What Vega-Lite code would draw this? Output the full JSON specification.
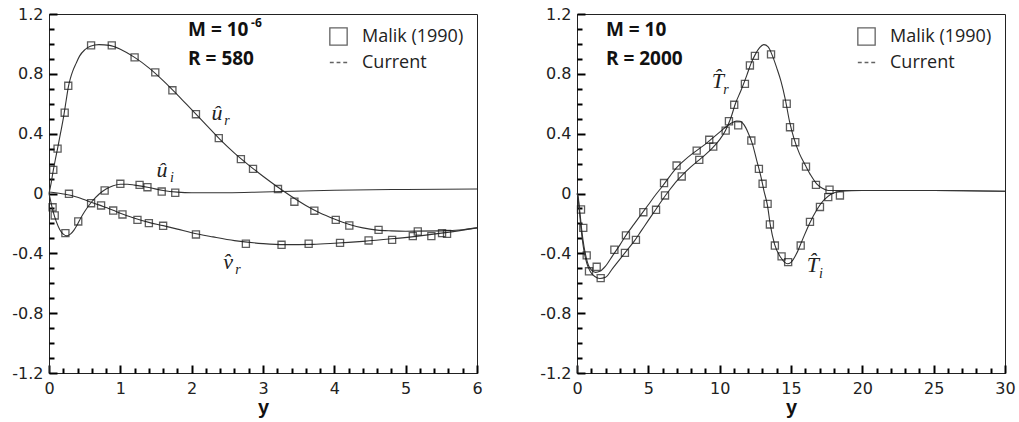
{
  "$schema": "https://vega.github.io/schema/vega-lite/v6.json",
  "background": "white",
  "padding": {"left": 11, "top": 5, "right": 5, "bottom": 5},
  "config": {
    "view": {"stroke": "#222", "strokeWidth": 1},
    "axis": {"labelFont": "DejaVu Sans", "labelFontSize": 16, "labelColor": "#222", "domainColor": "#222", "domainWidth": 1, "tickColor": "#000", "tickWidth": 2, "grid": false, "labelFlush": false, "titleFont": "Liberation Sans", "titleFontSize": 20, "titleFontWeight": "bold", "titleColor": "#111"},
    "legend": {"labelFont": "Open Sans", "labelFontSize": 18, "labelColor": "#222", "symbolStrokeColor": "#222", "symbolStrokeWidth": 1.3, "symbolSize": 300, "symbolFillColor": "transparent", "rowPadding": 5, "labelOffset": 14, "padding": 0, "offset": 13, "orient": "top-right", "title": null}
  },
  "datasets": {
    "leftLines": [
      {"s":"ur","x":0,"y":0},{"s":"ur","x":0.03,"y":0.07},{"s":"ur","x":0.06,"y":0.155},{"s":"ur","x":0.09,"y":0.23},{"s":"ur","x":0.12,"y":0.3},{"s":"ur","x":0.16,"y":0.4},{"s":"ur","x":0.2,"y":0.5},{"s":"ur","x":0.24,"y":0.62},{"s":"ur","x":0.27,"y":0.71},{"s":"ur","x":0.3,"y":0.77},{"s":"ur","x":0.33,"y":0.815},{"s":"ur","x":0.38,"y":0.87},{"s":"ur","x":0.43,"y":0.92},{"s":"ur","x":0.5,"y":0.96},{"s":"ur","x":0.58,"y":0.985},{"s":"ur","x":0.7,"y":0.995},{"s":"ur","x":0.85,"y":0.99},{"s":"ur","x":1.0,"y":0.965},{"s":"ur","x":1.2,"y":0.91},{"s":"ur","x":1.4,"y":0.84},{"s":"ur","x":1.6,"y":0.755},{"s":"ur","x":1.8,"y":0.66},{"s":"ur","x":2.0,"y":0.56},{"s":"ur","x":2.2,"y":0.46},{"s":"ur","x":2.4,"y":0.36},{"s":"ur","x":2.6,"y":0.27},{"s":"ur","x":2.8,"y":0.19},{"s":"ur","x":3.0,"y":0.115},{"s":"ur","x":3.2,"y":0.045},{"s":"ur","x":3.4,"y":-0.02},{"s":"ur","x":3.6,"y":-0.08},{"s":"ur","x":3.8,"y":-0.13},{"s":"ur","x":4.0,"y":-0.17},{"s":"ur","x":4.2,"y":-0.205},{"s":"ur","x":4.4,"y":-0.23},{"s":"ur","x":4.6,"y":-0.245},{"s":"ur","x":4.8,"y":-0.25},{"s":"ur","x":5.0,"y":-0.252},{"s":"ur","x":5.5,"y":-0.25},{"s":"ur","x":5.8,"y":-0.242},{"s":"ur","x":6.0,"y":-0.23},
      {"s":"ui","x":0,"y":0},{"s":"ui","x":0.03,"y":-0.065},{"s":"ui","x":0.06,"y":-0.125},{"s":"ui","x":0.1,"y":-0.185},{"s":"ui","x":0.15,"y":-0.24},{"s":"ui","x":0.2,"y":-0.272},{"s":"ui","x":0.25,"y":-0.283},{"s":"ui","x":0.3,"y":-0.272},{"s":"ui","x":0.35,"y":-0.245},{"s":"ui","x":0.4,"y":-0.205},{"s":"ui","x":0.45,"y":-0.16},{"s":"ui","x":0.5,"y":-0.12},{"s":"ui","x":0.6,"y":-0.055},{"s":"ui","x":0.7,"y":-0.005},{"s":"ui","x":0.8,"y":0.03},{"s":"ui","x":0.9,"y":0.052},{"s":"ui","x":1.0,"y":0.062},{"s":"ui","x":1.1,"y":0.062},{"s":"ui","x":1.2,"y":0.056},{"s":"ui","x":1.4,"y":0.04},{"s":"ui","x":1.6,"y":0.02},{"s":"ui","x":1.8,"y":0.009},{"s":"ui","x":2.0,"y":0.005},{"s":"ui","x":2.5,"y":0.005},{"s":"ui","x":3.0,"y":0.01},{"s":"ui","x":4.0,"y":0.022},{"s":"ui","x":5.0,"y":0.027},{"s":"ui","x":6.0,"y":0.03},
      {"s":"vr","x":0,"y":0.01},{"s":"vr","x":0.2,"y":-0.003},{"s":"vr","x":0.3,"y":-0.012},{"s":"vr","x":0.4,"y":-0.025},{"s":"vr","x":0.5,"y":-0.042},{"s":"vr","x":0.6,"y":-0.06},{"s":"vr","x":0.7,"y":-0.076},{"s":"vr","x":0.8,"y":-0.094},{"s":"vr","x":0.9,"y":-0.112},{"s":"vr","x":1.0,"y":-0.132},{"s":"vr","x":1.2,"y":-0.165},{"s":"vr","x":1.4,"y":-0.193},{"s":"vr","x":1.6,"y":-0.215},{"s":"vr","x":1.8,"y":-0.238},{"s":"vr","x":2.0,"y":-0.262},{"s":"vr","x":2.3,"y":-0.29},{"s":"vr","x":2.6,"y":-0.315},{"s":"vr","x":3.0,"y":-0.335},{"s":"vr","x":3.3,"y":-0.342},{"s":"vr","x":3.7,"y":-0.34},{"s":"vr","x":4.0,"y":-0.333},{"s":"vr","x":4.4,"y":-0.32},{"s":"vr","x":4.8,"y":-0.303},{"s":"vr","x":5.2,"y":-0.283},{"s":"vr","x":5.5,"y":-0.265},{"s":"vr","x":5.8,"y":-0.245},{"s":"vr","x":6.0,"y":-0.23}
    ],
    "leftPts": [
      {"s":"ur","x":0.06,"y":0.158,"src":"Malik (1990)"},{"s":"ur","x":0.12,"y":0.3,"src":"Malik (1990)"},{"s":"ur","x":0.22,"y":0.54,"src":"Malik (1990)"},{"s":"ur","x":0.27,"y":0.72,"src":"Malik (1990)"},{"s":"ur","x":0.59,"y":0.99,"src":"Malik (1990)"},{"s":"ur","x":0.88,"y":0.99,"src":"Malik (1990)"},{"s":"ur","x":1.2,"y":0.91,"src":"Malik (1990)"},{"s":"ur","x":1.49,"y":0.81,"src":"Malik (1990)"},{"s":"ur","x":1.73,"y":0.69,"src":"Malik (1990)"},{"s":"ur","x":2.06,"y":0.53,"src":"Malik (1990)"},{"s":"ur","x":2.38,"y":0.37,"src":"Malik (1990)"},{"s":"ur","x":2.69,"y":0.23,"src":"Malik (1990)"},{"s":"ur","x":2.86,"y":0.165,"src":"Malik (1990)"},{"s":"ur","x":3.21,"y":0.03,"src":"Malik (1990)"},{"s":"ur","x":3.44,"y":-0.055,"src":"Malik (1990)"},{"s":"ur","x":3.72,"y":-0.115,"src":"Malik (1990)"},{"s":"ur","x":4.02,"y":-0.176,"src":"Malik (1990)"},{"s":"ur","x":4.21,"y":-0.214,"src":"Malik (1990)"},{"s":"ur","x":4.62,"y":-0.243,"src":"Malik (1990)"},{"s":"ur","x":5.17,"y":-0.254,"src":"Malik (1990)"},
      {"s":"ui","x":0.05,"y":-0.092,"src":"Malik (1990)"},{"s":"ui","x":0.08,"y":-0.147,"src":"Malik (1990)"},{"s":"ui","x":0.23,"y":-0.265,"src":"Malik (1990)"},{"s":"ui","x":0.41,"y":-0.187,"src":"Malik (1990)"},{"s":"ui","x":0.59,"y":-0.065,"src":"Malik (1990)"},{"s":"ui","x":0.78,"y":0.02,"src":"Malik (1990)"},{"s":"ui","x":1.0,"y":0.065,"src":"Malik (1990)"},{"s":"ui","x":1.27,"y":0.058,"src":"Malik (1990)"},{"s":"ui","x":1.38,"y":0.042,"src":"Malik (1990)"},{"s":"ui","x":1.58,"y":0.013,"src":"Malik (1990)"},{"s":"ui","x":1.77,"y":0.005,"src":"Malik (1990)"},
      {"s":"vr","x":0.28,"y":-0.002,"src":"Malik (1990)"},{"s":"vr","x":0.73,"y":-0.08,"src":"Malik (1990)"},{"s":"vr","x":0.9,"y":-0.114,"src":"Malik (1990)"},{"s":"vr","x":1.03,"y":-0.14,"src":"Malik (1990)"},{"s":"vr","x":1.24,"y":-0.176,"src":"Malik (1990)"},{"s":"vr","x":1.4,"y":-0.198,"src":"Malik (1990)"},{"s":"vr","x":1.6,"y":-0.216,"src":"Malik (1990)"},{"s":"vr","x":2.06,"y":-0.274,"src":"Malik (1990)"},{"s":"vr","x":2.76,"y":-0.336,"src":"Malik (1990)"},{"s":"vr","x":3.26,"y":-0.343,"src":"Malik (1990)"},{"s":"vr","x":3.64,"y":-0.336,"src":"Malik (1990)"},{"s":"vr","x":4.08,"y":-0.33,"src":"Malik (1990)"},{"s":"vr","x":4.48,"y":-0.314,"src":"Malik (1990)"},{"s":"vr","x":4.81,"y":-0.31,"src":"Malik (1990)"},{"s":"vr","x":5.1,"y":-0.285,"src":"Malik (1990)"},{"s":"vr","x":5.36,"y":-0.285,"src":"Malik (1990)"},{"s":"vr","x":5.51,"y":-0.265,"src":"Malik (1990)"},{"s":"vr","x":5.58,"y":-0.27,"src":"Malik (1990)"}
    ],
    "leftNotes": [
      {"x":1.95,"y":1.09,"t":"M = 10","sup":"-6"},{"x":1.95,"y":0.9,"t":"R = 580","sup":""}
    ],
    "leftMath": [
      {"x":2.355,"y":0.541,"b":"\u00fb","sub":"r"},{"x":1.584,"y":0.154,"b":"\u00fb","sub":"i"},{"x":2.51,"y":-0.455,"b":"v\u0302","sub":"r"}
    ],
    "rightLines": [
      {"s":"Ti","x":0,"y":0},{"s":"Ti","x":0.08,"y":-0.02},{"s":"Ti","x":0.15,"y":-0.08},{"s":"Ti","x":0.25,"y":-0.17},{"s":"Ti","x":0.35,"y":-0.26},{"s":"Ti","x":0.5,"y":-0.36},{"s":"Ti","x":0.65,"y":-0.43},{"s":"Ti","x":0.8,"y":-0.48},{"s":"Ti","x":1.0,"y":-0.51},{"s":"Ti","x":1.3,"y":-0.527},{"s":"Ti","x":1.6,"y":-0.52},{"s":"Ti","x":2.0,"y":-0.485},{"s":"Ti","x":2.5,"y":-0.415},{"s":"Ti","x":3.0,"y":-0.345},{"s":"Ti","x":3.5,"y":-0.27},{"s":"Ti","x":4.0,"y":-0.205},{"s":"Ti","x":4.5,"y":-0.14},{"s":"Ti","x":5.0,"y":-0.075},{"s":"Ti","x":5.5,"y":-0.01},{"s":"Ti","x":6.0,"y":0.05},{"s":"Ti","x":6.5,"y":0.115},{"s":"Ti","x":7.0,"y":0.175},{"s":"Ti","x":7.5,"y":0.22},{"s":"Ti","x":8.0,"y":0.26},{"s":"Ti","x":8.5,"y":0.295},{"s":"Ti","x":9.0,"y":0.33},{"s":"Ti","x":9.5,"y":0.37},{"s":"Ti","x":10.0,"y":0.41},{"s":"Ti","x":10.5,"y":0.45},{"s":"Ti","x":10.9,"y":0.475},{"s":"Ti","x":11.2,"y":0.485},{"s":"Ti","x":11.45,"y":0.483},{"s":"Ti","x":11.7,"y":0.46},{"s":"Ti","x":12.0,"y":0.405},{"s":"Ti","x":12.3,"y":0.33},{"s":"Ti","x":12.6,"y":0.22},{"s":"Ti","x":12.9,"y":0.11},{"s":"Ti","x":13.1,"y":0.02},{"s":"Ti","x":13.35,"y":-0.08},{"s":"Ti","x":13.55,"y":-0.21},{"s":"Ti","x":13.85,"y":-0.34},{"s":"Ti","x":14.3,"y":-0.43},{"s":"Ti","x":14.75,"y":-0.47},{"s":"Ti","x":15.0,"y":-0.46},{"s":"Ti","x":15.4,"y":-0.4},{"s":"Ti","x":15.8,"y":-0.31},{"s":"Ti","x":16.3,"y":-0.2},{"s":"Ti","x":16.8,"y":-0.11},{"s":"Ti","x":17.3,"y":-0.045},{"s":"Ti","x":17.8,"y":-0.005},{"s":"Ti","x":18.5,"y":0.015},{"s":"Ti","x":20,"y":0.02},{"s":"Ti","x":25,"y":0.02},{"s":"Ti","x":30,"y":0.015},
      {"s":"Tr","x":0,"y":0},{"s":"Tr","x":0.08,"y":-0.03},{"s":"Tr","x":0.15,"y":-0.1},{"s":"Tr","x":0.25,"y":-0.2},{"s":"Tr","x":0.35,"y":-0.29},{"s":"Tr","x":0.5,"y":-0.39},{"s":"Tr","x":0.7,"y":-0.47},{"s":"Tr","x":0.95,"y":-0.525},{"s":"Tr","x":1.25,"y":-0.555},{"s":"Tr","x":1.6,"y":-0.568},{"s":"Tr","x":2.0,"y":-0.56},{"s":"Tr","x":2.5,"y":-0.5},{"s":"Tr","x":3.0,"y":-0.44},{"s":"Tr","x":3.5,"y":-0.38},{"s":"Tr","x":4.0,"y":-0.32},{"s":"Tr","x":4.5,"y":-0.25},{"s":"Tr","x":5.0,"y":-0.18},{"s":"Tr","x":5.5,"y":-0.11},{"s":"Tr","x":6.0,"y":-0.04},{"s":"Tr","x":6.5,"y":0.025},{"s":"Tr","x":7.0,"y":0.085},{"s":"Tr","x":7.5,"y":0.135},{"s":"Tr","x":8.0,"y":0.18},{"s":"Tr","x":8.5,"y":0.22},{"s":"Tr","x":9.0,"y":0.26},{"s":"Tr","x":9.5,"y":0.305},{"s":"Tr","x":10.0,"y":0.36},{"s":"Tr","x":10.4,"y":0.42},{"s":"Tr","x":10.8,"y":0.51},{"s":"Tr","x":11.1,"y":0.6},{"s":"Tr","x":11.5,"y":0.69},{"s":"Tr","x":11.9,"y":0.79},{"s":"Tr","x":12.2,"y":0.87},{"s":"Tr","x":12.5,"y":0.93},{"s":"Tr","x":12.8,"y":0.975},{"s":"Tr","x":13.1,"y":0.995},{"s":"Tr","x":13.4,"y":0.98},{"s":"Tr","x":13.7,"y":0.92},{"s":"Tr","x":14.0,"y":0.84},{"s":"Tr","x":14.3,"y":0.75},{"s":"Tr","x":14.6,"y":0.63},{"s":"Tr","x":14.9,"y":0.48},{"s":"Tr","x":15.2,"y":0.37},{"s":"Tr","x":15.6,"y":0.265},{"s":"Tr","x":16.0,"y":0.19},{"s":"Tr","x":16.4,"y":0.12},{"s":"Tr","x":16.8,"y":0.065},{"s":"Tr","x":17.2,"y":0.035},{"s":"Tr","x":17.6,"y":0.02},{"s":"Tr","x":18.2,"y":0.02},{"s":"Tr","x":20,"y":0.02},{"s":"Tr","x":25,"y":0.02},{"s":"Tr","x":30,"y":0.015}
    ],
    "rightPts": [
      {"s":"Tr","x":0.28,"y":-0.107,"src":"Malik (1990)"},{"s":"Tr","x":0.68,"y":-0.414,"src":"Malik (1990)"},{"s":"Tr","x":1.66,"y":-0.566,"src":"Malik (1990)"},{"s":"Tr","x":3.36,"y":-0.397,"src":"Malik (1990)"},{"s":"Tr","x":4.13,"y":-0.31,"src":"Malik (1990)"},{"s":"Tr","x":5.54,"y":-0.109,"src":"Malik (1990)"},{"s":"Tr","x":6.17,"y":-0.013,"src":"Malik (1990)"},{"s":"Tr","x":7.34,"y":0.114,"src":"Malik (1990)"},{"s":"Tr","x":8.57,"y":0.225,"src":"Malik (1990)"},{"s":"Tr","x":9.55,"y":0.314,"src":"Malik (1990)"},{"s":"Tr","x":10.42,"y":0.42,"src":"Malik (1990)"},{"s":"Tr","x":11.02,"y":0.593,"src":"Malik (1990)"},{"s":"Tr","x":11.77,"y":0.733,"src":"Malik (1990)"},{"s":"Tr","x":12.12,"y":0.856,"src":"Malik (1990)"},{"s":"Tr","x":12.47,"y":0.92,"src":"Malik (1990)"},{"s":"Tr","x":13.6,"y":0.93,"src":"Malik (1990)"},{"s":"Tr","x":14.7,"y":0.6,"src":"Malik (1990)"},{"s":"Tr","x":14.93,"y":0.443,"src":"Malik (1990)"},{"s":"Tr","x":15.3,"y":0.343,"src":"Malik (1990)"},{"s":"Tr","x":16.05,"y":0.18,"src":"Malik (1990)"},{"s":"Tr","x":16.75,"y":0.058,"src":"Malik (1990)"},{"s":"Tr","x":17.7,"y":0.025,"src":"Malik (1990)"},
      {"s":"Ti","x":0.44,"y":-0.23,"src":"Malik (1990)"},{"s":"Ti","x":0.84,"y":-0.52,"src":"Malik (1990)"},{"s":"Ti","x":1.38,"y":-0.49,"src":"Malik (1990)"},{"s":"Ti","x":2.62,"y":-0.376,"src":"Malik (1990)"},{"s":"Ti","x":3.43,"y":-0.28,"src":"Malik (1990)"},{"s":"Ti","x":4.65,"y":-0.125,"src":"Malik (1990)"},{"s":"Ti","x":6.1,"y":0.07,"src":"Malik (1990)"},{"s":"Ti","x":6.98,"y":0.187,"src":"Malik (1990)"},{"s":"Ti","x":8.39,"y":0.287,"src":"Malik (1990)"},{"s":"Ti","x":9.27,"y":0.359,"src":"Malik (1990)"},{"s":"Ti","x":10.65,"y":0.483,"src":"Malik (1990)"},{"s":"Ti","x":11.3,"y":0.455,"src":"Malik (1990)"},{"s":"Ti","x":12.22,"y":0.354,"src":"Malik (1990)"},{"s":"Ti","x":12.75,"y":0.165,"src":"Malik (1990)"},{"s":"Ti","x":13.01,"y":0.065,"src":"Malik (1990)"},{"s":"Ti","x":13.36,"y":-0.069,"src":"Malik (1990)"},{"s":"Ti","x":13.52,"y":-0.207,"src":"Malik (1990)"},{"s":"Ti","x":13.87,"y":-0.348,"src":"Malik (1990)"},{"s":"Ti","x":14.34,"y":-0.42,"src":"Malik (1990)"},{"s":"Ti","x":14.8,"y":-0.459,"src":"Malik (1990)"},{"s":"Ti","x":15.68,"y":-0.348,"src":"Malik (1990)"},{"s":"Ti","x":16.33,"y":-0.19,"src":"Malik (1990)"},{"s":"Ti","x":17.03,"y":-0.09,"src":"Malik (1990)"},{"s":"Ti","x":17.61,"y":-0.024,"src":"Malik (1990)"},{"s":"Ti","x":18.43,"y":-0.013,"src":"Malik (1990)"}
    ],
    "rightNotes": [
      {"x":2.03,"y":1.09,"t":"M = 10","sup":""},{"x":2.03,"y":0.9,"t":"R = 2000","sup":""}
    ],
    "rightMath": [
      {"x":9.88,"y":0.755,"b":"T\u0302","sub":"r"},{"x":16.54,"y":-0.475,"b":"T\u0302","sub":"i"}
    ]
  },
  "hconcat": [
    {
      "width": 428, "height": 359,
      "layer": [
        {
          "data": {"name": "leftLines"},
          "mark": {"type": "line", "color": "#333", "strokeWidth": 1.1, "interpolate": "monotone"},
          "encoding": {
            "x": {"field": "x", "type": "quantitative", "scale": {"domain": [0, 6], "nice": false, "zero": false},
                  "axis": {"orient": "bottom", "values": [0,1,2,3,4,5,6], "format": "d", "title": "y", "ticks": false, "labelPadding": 7, "titlePadding": 1}},
            "y": {"field": "y", "type": "quantitative", "scale": {"domain": [-1.2, 1.2], "nice": false, "zero": false},
                  "axis": {"orient": "left", "values": [-1.2,-0.8,-0.4,0,0.4,0.8,1.2], "labelExpr": "datum.value == 0 ? '0' : (datum.value < 0 ? '-' : '') + format(abs(datum.value), '.1f')", "title": null, "ticks": false, "labelPadding": 6}},
            "detail": {"field": "s"}
          }
        },
        {
          "data": {"name": "leftPts"},
          "mark": {"type": "point", "filled": false, "size": 50, "color": "#1a1a1a", "strokeWidth": 1.3},
          "encoding": {
            "x": {"field": "x", "type": "quantitative", "scale": {"domain": [0, 6], "nice": false, "zero": false},
                  "axis": {"orient": "bottom", "values": [0,1,2,3,4,5,6], "labels": false, "domain": false, "ticks": true, "title": null, "tickSize": 8, "offset": -8, "tickColor": "#000", "tickWidth": 2}},
            "y": {"field": "y", "type": "quantitative", "scale": {"domain": [-1.2, 1.2], "nice": false, "zero": false},
                  "axis": {"orient": "left", "values": [-1.2,-0.8,-0.4,0,0.4,0.8,1.2], "labels": false, "domain": false, "ticks": true, "title": null, "tickSize": 8, "offset": -8, "tickColor": "#000", "tickWidth": 2}},
            "shape": {"field": "src", "type": "nominal", "scale": {"domain": ["Malik (1990)", "Current"], "range": ["square", "M-1,0H-0.55M-0.22,0H0.22M0.55,0H1"]}, "legend": {"orient": "top-right", "title": null}}
          }
        },
        {
          "data": {"name": "leftNotes"},
          "mark": {"type": "text", "font": "Open Sans", "fontWeight": "bold", "fontSize": 19, "align": "left", "baseline": "middle", "color": "#111"},
          "encoding": {
            "x": {"field": "x", "type": "quantitative", "scale": {"domain": [0, 6], "nice": false, "zero": false},
                  "axis": {"orient": "bottom", "values": [0.2,0.4,0.6,0.8,1.2,1.4,1.6,1.8,2.2,2.4,2.6,2.8,3.2,3.4,3.6,3.8,4.2,4.4,4.6,4.8,5.2,5.4,5.6,5.8], "labels": false, "domain": false, "ticks": true, "title": null, "tickSize": 5, "offset": -5, "tickColor": "#000", "tickWidth": 2}},
            "y": {"field": "y", "type": "quantitative", "scale": {"domain": [-1.2, 1.2], "nice": false, "zero": false},
                  "axis": {"orient": "left", "values": [-1.1,-1.0,-0.9,-0.7,-0.6,-0.5,-0.3,-0.2,-0.1,0.1,0.2,0.3,0.5,0.6,0.7,0.9,1.0,1.1], "labels": false, "domain": false, "ticks": true, "title": null, "tickSize": 5, "offset": -5, "tickColor": "#000", "tickWidth": 2}},
            "text": {"field": "t"}
          }
        },
        {
          "data": {"name": "leftNotes"},
          "mark": {"type": "text", "font": "Open Sans", "fontWeight": "bold", "fontSize": 12, "align": "left", "baseline": "middle", "color": "#111", "dx": 63, "dy": -7},
          "encoding": {
            "x": {"field": "x", "type": "quantitative", "axis": null},
            "y": {"field": "y", "type": "quantitative", "axis": null},
            "text": {"field": "sup"}
          }
        },
        {
          "data": {"name": "leftMath"},
          "mark": {"type": "text", "font": "Liberation Serif", "fontStyle": "italic", "fontSize": 22, "align": "center", "baseline": "middle", "color": "#222"},
          "encoding": {
            "x": {"field": "x", "type": "quantitative", "axis": null},
            "y": {"field": "y", "type": "quantitative", "axis": null},
            "text": {"field": "b"}
          }
        },
        {
          "data": {"name": "leftMath"},
          "mark": {"type": "text", "font": "Liberation Serif", "fontStyle": "italic", "fontSize": 14, "align": "center", "baseline": "middle", "color": "#222", "dx": 10, "dy": 8},
          "encoding": {
            "x": {"field": "x", "type": "quantitative", "axis": null},
            "y": {"field": "y", "type": "quantitative", "axis": null},
            "text": {"field": "sub"}
          }
        }
      ],
      "resolve": {"axis": {"x": "independent", "y": "independent"}}
    },
    {
      "width": 428, "height": 359,
      "layer": [
        {
          "data": {"name": "rightLines"},
          "mark": {"type": "line", "color": "#333", "strokeWidth": 1.1, "interpolate": "monotone"},
          "encoding": {
            "x": {"field": "x", "type": "quantitative", "scale": {"domain": [0, 30], "nice": false, "zero": false},
                  "axis": {"orient": "bottom", "values": [0,5,10,15,20,25,30], "format": "d", "title": "y", "ticks": false, "labelPadding": 7, "titlePadding": 1}},
            "y": {"field": "y", "type": "quantitative", "scale": {"domain": [-1.2, 1.2], "nice": false, "zero": false},
                  "axis": {"orient": "left", "values": [-1.2,-0.8,-0.4,0,0.4,0.8,1.2], "labelExpr": "datum.value == 0 ? '0' : (datum.value < 0 ? '-' : '') + format(abs(datum.value), '.1f')", "title": null, "ticks": false, "labelPadding": 6}},
            "detail": {"field": "s"}
          }
        },
        {
          "data": {"name": "rightPts"},
          "mark": {"type": "point", "filled": false, "size": 50, "color": "#1a1a1a", "strokeWidth": 1.3},
          "encoding": {
            "x": {"field": "x", "type": "quantitative", "scale": {"domain": [0, 30], "nice": false, "zero": false},
                  "axis": {"orient": "bottom", "values": [0,5,10,15,20,25,30], "labels": false, "domain": false, "ticks": true, "title": null, "tickSize": 8, "offset": -8, "tickColor": "#000", "tickWidth": 2}},
            "y": {"field": "y", "type": "quantitative", "scale": {"domain": [-1.2, 1.2], "nice": false, "zero": false},
                  "axis": {"orient": "left", "values": [-1.2,-0.8,-0.4,0,0.4,0.8,1.2], "labels": false, "domain": false, "ticks": true, "title": null, "tickSize": 8, "offset": -8, "tickColor": "#000", "tickWidth": 2}},
            "shape": {"field": "src", "type": "nominal", "scale": {"domain": ["Malik (1990)", "Current"], "range": ["square", "M-1,0H-0.55M-0.22,0H0.22M0.55,0H1"]}, "legend": {"orient": "top-right", "title": null}}
          }
        },
        {
          "data": {"name": "rightNotes"},
          "mark": {"type": "text", "font": "Open Sans", "fontWeight": "bold", "fontSize": 19, "align": "left", "baseline": "middle", "color": "#111"},
          "encoding": {
            "x": {"field": "x", "type": "quantitative", "scale": {"domain": [0, 30], "nice": false, "zero": false},
                  "axis": {"orient": "bottom", "values": [1,2,3,4,6,7,8,9,11,12,13,14,16,17,18,19,21,22,23,24,26,27,28,29], "labels": false, "domain": false, "ticks": true, "title": null, "tickSize": 5, "offset": -5, "tickColor": "#000", "tickWidth": 2}},
            "y": {"field": "y", "type": "quantitative", "scale": {"domain": [-1.2, 1.2], "nice": false, "zero": false},
                  "axis": {"orient": "left", "values": [-1.1,-1.0,-0.9,-0.7,-0.6,-0.5,-0.3,-0.2,-0.1,0.1,0.2,0.3,0.5,0.6,0.7,0.9,1.0,1.1], "labels": false, "domain": false, "ticks": true, "title": null, "tickSize": 5, "offset": -5, "tickColor": "#000", "tickWidth": 2}},
            "text": {"field": "t"}
          }
        },
        {
          "data": {"name": "rightMath"},
          "mark": {"type": "text", "font": "Liberation Serif", "fontStyle": "italic", "fontSize": 22, "align": "center", "baseline": "middle", "color": "#222"},
          "encoding": {
            "x": {"field": "x", "type": "quantitative", "axis": null},
            "y": {"field": "y", "type": "quantitative", "axis": null},
            "text": {"field": "b"}
          }
        },
        {
          "data": {"name": "rightMath"},
          "mark": {"type": "text", "font": "Liberation Serif", "fontStyle": "italic", "fontSize": 14, "align": "center", "baseline": "middle", "color": "#222", "dx": 8, "dy": 9},
          "encoding": {
            "x": {"field": "x", "type": "quantitative", "axis": null},
            "y": {"field": "y", "type": "quantitative", "axis": null},
            "text": {"field": "sub"}
          }
        }
      ],
      "resolve": {"axis": {"x": "independent", "y": "independent"}}
    }
  ],
  "spacing": 100,
  "bounds": "flush",
  "resolve": {"scale": {"x": "independent", "y": "independent", "shape": "independent"}, "legend": {"shape": "independent"}}
}
